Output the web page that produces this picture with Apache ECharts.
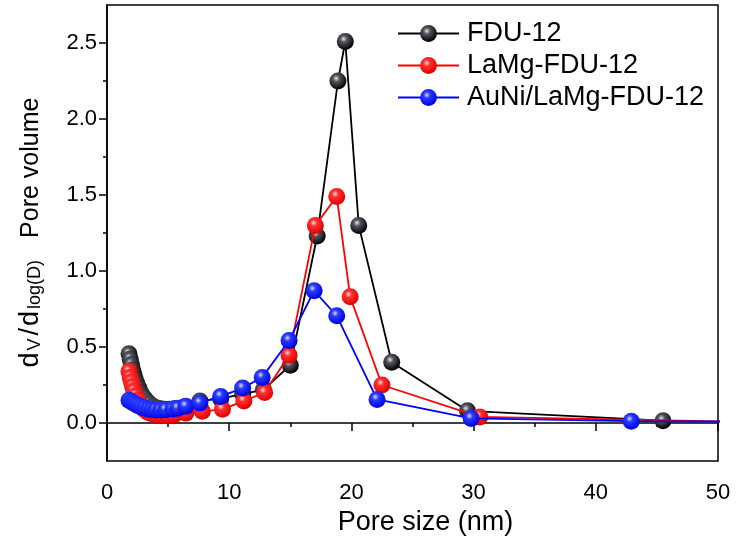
<!DOCTYPE html>
<html>
<head>
<meta charset="utf-8">
<script src="https://cdn.jsdelivr.net/npm/echarts@6/dist/echarts.min.js"></script>
<style>html,body{margin:0;padding:0;background:#fff}#c{width:736px;height:537px}</style>
</head>
<body>
<div id="c"></div>
<script>
// ---- data ----
const seriesNames = ['FDU-12', 'LaMg-FDU-12', 'AuNi/LaMg-FDU-12'];

const fduX = [1.8, 1.9, 2.0, 2.1, 2.2, 2.3, 2.45, 2.6, 2.75, 2.9, 3.1, 3.3, 3.5, 3.75, 4.0, 4.3, 4.7, 5.1, 5.6, 6.3, 7.6, 9.3, 11.1, 12.8, 15.0, 17.2, 18.9, 19.5, 20.6, 23.3, 29.5, 45.5];
const fduY = [0.455, 0.42, 0.385, 0.35, 0.32, 0.29, 0.26, 0.23, 0.20, 0.18, 0.16, 0.14, 0.125, 0.11, 0.10, 0.095, 0.09, 0.09, 0.095, 0.105, 0.145, 0.16, 0.19, 0.22, 0.38, 1.23, 2.25, 2.51, 1.30, 0.40, 0.08, 0.015];

const lamgX = [1.8, 1.9, 2.0, 2.1, 2.2, 2.35, 2.5, 2.7, 2.9, 3.1, 3.35, 3.6, 3.9, 4.2, 4.6, 5.0, 5.5, 6.45, 7.8, 9.45, 11.2, 12.9, 14.9, 17.05, 18.8, 19.9, 22.5, 30.5, 50.2];
const lamgY = [0.34, 0.30, 0.27, 0.24, 0.21, 0.18, 0.15, 0.12, 0.10, 0.085, 0.07, 0.062, 0.056, 0.052, 0.05, 0.05, 0.055, 0.065, 0.077, 0.09, 0.145, 0.20, 0.445, 1.30, 1.49, 0.83, 0.25, 0.04, 0.01];

const auniX = [1.8, 2.0, 2.2, 2.4, 2.6, 2.85, 3.1, 3.4, 3.7, 4.0, 4.4, 4.8, 5.4, 5.8, 6.45, 7.6, 9.3, 11.1, 12.7, 14.9, 16.95, 18.8, 22.1, 29.8, 42.9, 50.2];
const auniY = [0.15, 0.14, 0.13, 0.12, 0.112, 0.104, 0.097, 0.092, 0.088, 0.085, 0.085, 0.087, 0.092, 0.097, 0.11, 0.132, 0.175, 0.23, 0.30, 0.543, 0.87, 0.705, 0.155, 0.03, 0.012, 0.01];

const xTickLabels = [0, 10, 20, 30, 40, 50];
const yTickLabels = [0.0, 0.5, 1.0, 1.5, 2.0, 2.5];
// ---- end data ----

const FONT = 'Liberation Sans';
function zip(xs, ys) { return xs.map((x, i) => [x, ys[i]]); }
function sphere(hi, mid, base) {
  return {
    type: 'radial', x: 0.4, y: 0.35, r: 0.65,
    colorStops: [
      { offset: 0, color: hi },
      { offset: 0.3, color: mid },
      { offset: 1, color: base }
    ]
  };
}
const colors = ['#000000', '#ff0000', '#0000ff'];
const fills = [
  sphere('#e6e6f0', '#555560', '#000000'),
  sphere('#f2dce8', '#ff3030', '#e00000'),
  sphere('#dcdcf5', '#2a3cff', '#0000e0')
];
const datas = [zip(fduX, fduY), zip(lamgX, lamgY), zip(auniX, auniY)];

// main plot area geometry
const G = { left: 107, right: 18, top: 5, bottom: 76 };
const yMin = -0.25, yMax = 2.75;
const plotH = 537 - G.top - G.bottom;
const pxPerUnit = plotH / (yMax - yMin);
const yPix = v => G.top + (yMax - v) * pxPerUnit;
const majLo = yTickLabels[0], majHi = yTickLabels[yTickLabels.length - 1];
const minLo = majLo + 0.25, minHi = majHi - 0.25;

const tickStyle = { color: '#000', width: 1.5 };

const chart = echarts.init(document.getElementById('c'), null, { renderer: 'canvas' });
chart.setOption({
  animation: false,
  backgroundColor: '#ffffff',
  grid: [
    { left: G.left, right: G.right, top: G.top, bottom: G.bottom, outerBoundsMode: 'none', show: true, borderColor: '#000', borderWidth: 1.5, backgroundColor: 'transparent' },
    { left: G.left, right: G.right, top: yPix(majHi), bottom: 537 - yPix(majLo), outerBoundsMode: 'none' },
    { left: G.left, right: G.right, top: yPix(minHi), bottom: 537 - yPix(minLo), outerBoundsMode: 'none' }
  ],
  legend: {
    orient: 'vertical', left: 392, top: 15,
    itemWidth: 61, itemHeight: 21, itemGap: 5,
    textStyle: { fontFamily: FONT, fontSize: 27, color: '#000', padding: [0, 0, 0, 3] },
    data: seriesNames
  },
  xAxis: [{
    type: 'value', min: xTickLabels[0], max: xTickLabels[xTickLabels.length - 1], interval: 10, gridIndex: 0,
    axisLine: { lineStyle: { color: '#000', width: 1.5 } },
    axisTick: { inside: false, length: 8, lineStyle: tickStyle },
    minorTick: { show: true, splitNumber: 2, length: 4, lineStyle: tickStyle },
    splitLine: { show: false },
    axisLabel: { fontFamily: FONT, fontSize: 22, color: '#000', margin: 21 },
    name: 'Pore size (nm)', nameLocation: 'middle', nameGap: 45,
    nameTextStyle: { fontFamily: FONT, fontSize: 27, color: '#000', padding: [0, 0, 0, 26] }
  }, {
    type: 'value', gridIndex: 1, min: 0, max: 50, show: false
  }, {
    type: 'value', gridIndex: 2, min: 0, max: 50, show: false
  }],
  yAxis: [{
    type: 'value', min: yMin, max: yMax, gridIndex: 0, position: 'left',
    axisLine: { show: true, lineStyle: { color: '#000', width: 1.5 } },
    axisTick: { show: false },
    splitLine: { show: false },
    axisLabel: { show: false },
    name: '{m|d}{s|V}{m|/}{m|d}{s|log(D)}{p|Pore volume}',
    nameLocation: 'middle', nameRotate: 90, nameGap: 63,
    nameTextStyle: {
      color: '#000',
      rich: {
        m: { fontFamily: FONT, fontSize: 27, color: '#000', lineHeight: 34, verticalAlign: 'bottom', padding: [0, 1, 0, 1] },
        s: { fontFamily: FONT, fontSize: 18, color: '#000', lineHeight: 18, verticalAlign: 'bottom', padding: [0, 2, 0, 1] },
        p: { fontFamily: FONT, fontSize: 25, color: '#000', lineHeight: 34, verticalAlign: 'bottom', padding: [0, 0, 0, 20] }
      }
    }
  }, {
    // major ticks + labels
    type: 'value', gridIndex: 1, min: majLo, max: majHi, interval: 0.5, position: 'left',
    axisLine: { show: false },
    axisTick: { show: true, inside: false, length: 8, lineStyle: tickStyle },
    splitLine: { show: false },
    axisLabel: { fontFamily: FONT, fontSize: 22, color: '#000', margin: 10, formatter: v => v.toFixed(1) }
  }, {
    // minor ticks
    type: 'value', gridIndex: 2, min: minLo, max: minHi, interval: 0.5, position: 'left',
    axisLine: { show: false },
    axisTick: { show: true, inside: false, length: 4, lineStyle: tickStyle },
    splitLine: { show: false },
    axisLabel: { show: false }
  }],
  series: seriesNames.map((n, i) => ({
    name: n, type: 'line', data: datas[i], xAxisIndex: 0, yAxisIndex: 0,
    symbol: 'circle', symbolSize: 17, showSymbol: true, clip: true,
    lineStyle: { color: colors[i], width: 1.8 },
    itemStyle: { color: fills[i], borderWidth: 0 },
    z: 2 + i
  }))
});
</script>
</body>
</html>
